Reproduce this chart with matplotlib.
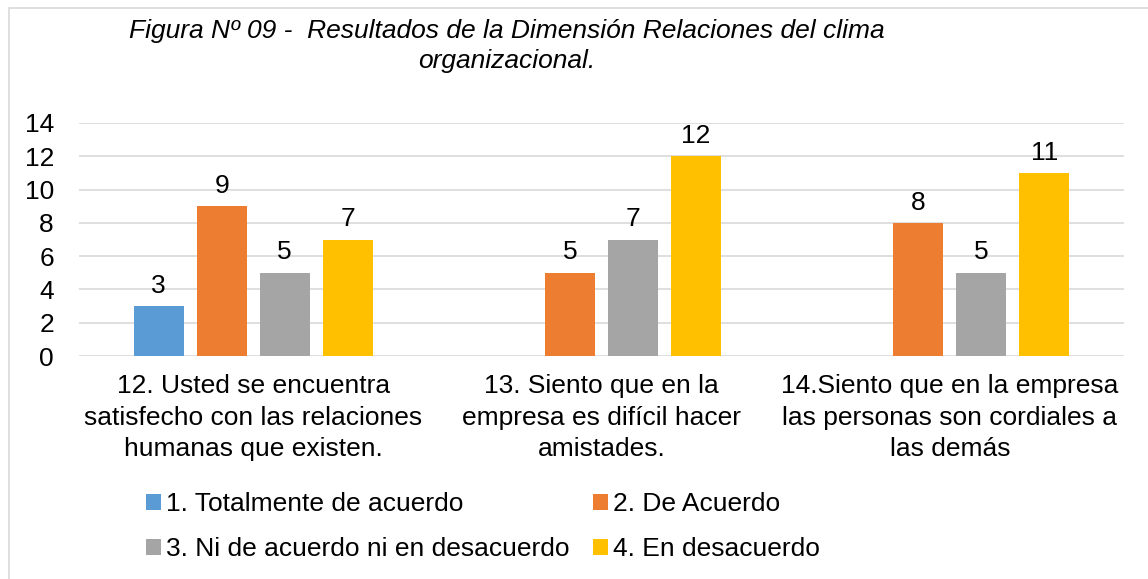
import numpy as np
import matplotlib
matplotlib.use("Agg")
import matplotlib.pyplot as plt
from matplotlib.patches import Rectangle

plt.rcParams['font.family'] = ['Liberation Sans', 'DejaVu Sans']

categories = [
    "12. Usted se encuentra\nsatisfecho con las relaciones\nhumanas que existen.",
    "13. Siento que en la\nempresa es difícil hacer\namistades.",
    "14.Siento que en la empresa\nlas personas son cordiales a\nlas demás",
]
series_names = [
    "1. Totalmente de acuerdo",
    "2. De Acuerdo",
    "3. Ni de acuerdo ni en desacuerdo",
    "4. En desacuerdo",
]
totalmente = [3, np.nan, np.nan]
de_acuerdo = [9, 5, 8]
ni_ni = [5, 7, 5]
desacuerdo = [7, 12, 11]
series = [totalmente, de_acuerdo, ni_ni, desacuerdo]
colors = ["#5B9BD5", "#ED7D31", "#A5A5A5", "#FFC000"]
title = "Figura Nº 09 -  Resultados de la Dimensión Relaciones del clima\norganizacional."

fs = 19
fig = plt.figure(figsize=(11.48, 5.79), dpi=100)
ax = fig.add_axes([79/1148, 1-356/579, (1124-79)/1148, (356-123)/579])

x = np.arange(len(categories))
width = 0.144
step = 0.181
handles = []
for i, (vals, col) in enumerate(zip(series, colors)):
    pos = x + (i - 1.5) * step
    b = ax.bar(pos, vals, width, color=col, zorder=3, label=series_names[i])
    handles.append(b)
    for p, v in zip(pos, vals):
        if not np.isnan(v):
            ax.annotate(f"{v:g}", (p, v), xytext=(0, 6), textcoords="offset points",
                        ha="center", va="bottom", fontsize=fs)

ax.set_xlim(-0.5, 2.5)
ax.set_ylim(0, 14)
ax.set_yticks(range(0, 15, 2))
ax.set_xticks(x)
ax.set_xticklabels(categories, fontsize=fs, linespacing=1.4)
ax.tick_params(axis="y", length=0, pad=18, labelsize=fs)
ax.tick_params(axis="x", length=0, pad=13)
ax.grid(axis="y", color="#D9D9D9", linewidth=1.2, zorder=0)
for s in ax.spines.values():
    s.set_visible(False)

fig.text(507/1148, 1-46/579, title, ha="center", va="center", fontsize=fs,
         style="italic", linespacing=1.35)

order = [0, 2, 1, 3]
leg = fig.legend(handles=[handles[k] for k in order], loc="upper left",
                 bbox_to_anchor=(133/1148, 1-479/579),
                 ncol=2, frameon=False, fontsize=fs, handlelength=0.55, handleheight=0.55,
                 handletextpad=0.2, columnspacing=0.9, labelspacing=0.8, borderpad=0)

fig.patches.append(Rectangle((9/1148, -0.1), 1.2, 1 - 8/579 + 0.1, transform=fig.transFigure,
                             fill=False, edgecolor="#D9D9D9", linewidth=1.2))

fig.savefig("out.png", dpi=100)
